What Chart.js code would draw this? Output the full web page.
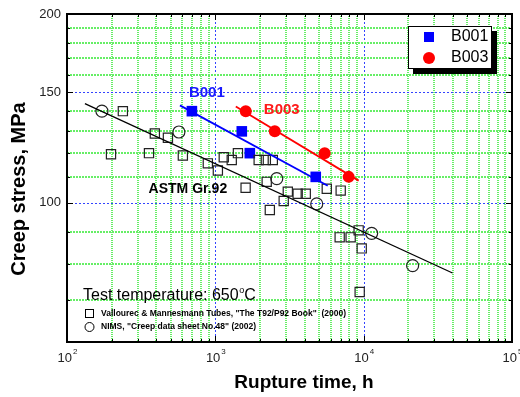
<!DOCTYPE html>
<html>
<head>
<meta charset="utf-8">
<script src="https://cdn.jsdelivr.net/npm/chart.js@4.4.0/dist/chart.umd.min.js"></script>
<style>
  html, body { margin: 0; padding: 0; background: #fff; }
</style>
</head>
<body>
<canvas id="creep" width="520" height="397"></canvas>
<script>
// Vallourec & Mannesmann data (open squares)
const vmTime = [238, 198, 357, 391, 479, 604, 890, 1040, 1140, 1290, 1420, 1960, 2190, 2440,
                1600, 2220, 3080, 3590, 4070, 5640, 7000, 2890, 2330, 6890, 8170, 9250, 9700, 9400];
const vmStress = [140, 119.5, 120, 129, 127, 119, 115.6, 112.6, 118.2, 117, 120, 117, 117, 117,
                  105.7, 108, 104.2, 103.4, 103.4, 105.3, 104.6, 100.7, 97.4, 88.1, 88.1, 90.4, 84.6, 72.1];
// NIMS data (open circles)
const nimsTime = [172, 568, 2595, 4826, 11320, 21380];
const nimsStress = [140, 129.7, 109.3, 99.6, 89.4, 79.4];
// test results
const b001Time = [695, 1508, 1708, 4753];
const b001Stress = [140, 130, 120, 110];
const b003Time = [1604, 2516, 5460, 7925];
const b003Stress = [140, 130, 120, 110];
// fitted lines (end points)
const astmLineTime = [132, 39720];
const astmLineStress = [143.9, 77.3];
const b001LineTime = [577, 5725];
const b001LineStress = [143, 106.5];
const b003LineTime = [1374, 9250];
const b003LineStress = [142.4, 108.5];
// axes
const xGridValues = [100, 200, 300, 400, 500, 600, 700, 800, 900,
                     1000, 2000, 3000, 4000, 5000, 6000, 7000, 8000, 9000,
                     10000, 20000, 30000, 40000, 50000, 60000, 70000, 80000, 90000, 100000];
const xMajor = [100, 1000, 10000, 100000];
const xExponents = ['2', '3', '4', '5'];
const yGridValues = [60, 70, 80, 90, 100, 110, 120, 130, 140, 150, 160, 170, 180, 190, 200];
const yMajor = [100, 150, 200];

const pts = (xs, ys) => xs.map((x, i) => ({ x: x, y: ys[i] }));
const FONT = 'Arial, "Liberation Sans", sans-serif';

const decorations = {
  id: 'decorations',
  beforeDatasetsDraw(chart) {
    const { ctx, chartArea: a, scales: { x, y } } = chart;
    const L = Math.round(a.left), R = Math.round(a.right);
    const T = Math.round(a.top), B = Math.round(a.bottom);
    ctx.save();
    const gridLine = (major, horiz, x1, y1, x2, y2) => {
      if (major) {
        ctx.strokeStyle = '#3344ff'; ctx.lineWidth = 1; ctx.setLineDash([2, 2]);
      } else {
        ctx.strokeStyle = '#66ee66'; ctx.lineWidth = 2; ctx.setLineDash(horiz ? [2, 1] : [1, 1]);
      }
      ctx.beginPath(); ctx.moveTo(x1, y1); ctx.lineTo(x2, y2); ctx.stroke();
    };
    xGridValues.forEach(v => {
      if (v === 100 || v === 100000) return;
      const major = xMajor.includes(v);
      const px = Math.round(x.getPixelForValue(v)) + (major ? 0.5 : 0);
      gridLine(major, false, px, T, px, B);
    });
    yGridValues.forEach(v => {
      if (v === 200) return;
      const major = yMajor.includes(v);
      const py = Math.round(y.getPixelForValue(v)) + (major ? 0.5 : 0);
      gridLine(major, true, L, py, R, py);
    });
    ctx.restore();
  },
  afterDraw(chart) {
    const { ctx, chartArea: a, scales: { x, y } } = chart;
    const L = Math.round(a.left), R = Math.round(a.right);
    const T = Math.round(a.top), B = Math.round(a.bottom);
    ctx.save();
    // inner ticks
    ctx.strokeStyle = '#000';
    ctx.lineWidth = 1;
    xGridValues.forEach(v => {
      const px = Math.round(x.getPixelForValue(v)) + 0.5;
      const len = xMajor.includes(v) ? 6 : 3;
      ctx.beginPath();
      ctx.moveTo(px, B); ctx.lineTo(px, B - len);
      ctx.moveTo(px, T); ctx.lineTo(px, T + len);
      ctx.stroke();
    });
    yGridValues.forEach(v => {
      const py = Math.round(y.getPixelForValue(v)) + 0.5;
      const len = yMajor.includes(v) ? 6 : 3;
      ctx.beginPath();
      ctx.moveTo(L, py); ctx.lineTo(L + len, py);
      ctx.moveTo(R, py); ctx.lineTo(R - len, py);
      ctx.stroke();
    });
    // frame
    ctx.lineWidth = 2;
    ctx.strokeRect(L, T, R - L, B - T);

    // tick labels
    ctx.fillStyle = '#222';
    ctx.font = '13px ' + FONT;
    ctx.textAlign = 'right';
    ctx.textBaseline = 'middle';
    yMajor.forEach(v => ctx.fillText(String(v), L - 6, y.getPixelForValue(v)));
    xMajor.forEach((v, i) => {
      const px = x.getPixelForValue(v);
      ctx.font = '13px ' + FONT;
      const w1 = ctx.measureText('10').width;
      ctx.font = '8px ' + FONT;
      const w2 = ctx.measureText(xExponents[i]).width;
      const left = px - (w1 + w2) / 2;
      ctx.textAlign = 'left';
      ctx.font = '13px ' + FONT;
      ctx.fillText('10', left, B + 16);
      ctx.font = '8px ' + FONT;
      ctx.fillText(xExponents[i], left + w1 + 1, B + 10);
    });

    // axis titles
    ctx.fillStyle = '#000';
    ctx.font = 'bold 19px ' + FONT;
    ctx.textAlign = 'center';
    ctx.fillText('Rupture time, h', 304, 383);
    ctx.save();
    ctx.translate(19, 189);
    ctx.rotate(-Math.PI / 2);
    ctx.font = 'bold 20px ' + FONT;
    ctx.fillText('Creep stress, MPa', 0, 0);
    ctx.restore();

    // line labels
    ctx.font = 'bold 15px ' + FONT;
    ctx.fillStyle = '#1a1aff';
    ctx.fillText('B001', x.getPixelForValue(877), y.getPixelForValue(150));
    ctx.fillStyle = '#ff1a1a';
    ctx.fillText('B003', x.getPixelForValue(2805), y.getPixelForValue(140.8));
    ctx.fillStyle = '#000';
    ctx.font = 'bold 14px ' + FONT;
    ctx.fillText('ASTM Gr.92', x.getPixelForValue(653), y.getPixelForValue(105.3));

    // test temperature note
    ctx.textAlign = 'left';
    ctx.font = '16px ' + FONT;
    let tx = L + 16;
    const ty = 296;
    ctx.fillText('Test temperature: 650', tx, ty);
    tx += ctx.measureText('Test temperature: 650').width;
    ctx.font = '9px ' + FONT;
    ctx.fillText('o', tx + 0.5, ty - 5);
    tx += ctx.measureText('o').width + 0.5;
    ctx.font = '16px ' + FONT;
    ctx.fillText('C', tx, ty);

    // source legend
    ctx.font = 'bold 8.5px ' + FONT;
    ctx.lineWidth = 1;
    ctx.strokeStyle = '#000';
    ctx.strokeRect(L + 18.5, 309.5, 8, 8);
    ctx.fillText('Vallourec & Mannesmann Tubes, "The T92/P92 Book"  (2000)', L + 34, 314);
    ctx.beginPath();
    ctx.arc(L + 22.5, 327, 4.5, 0, Math.PI * 2);
    ctx.stroke();
    ctx.fillText('NIMS, "Creep data sheet No.48" (2002)', L + 34, 327);

    // series legend box with shadow
    ctx.fillStyle = '#000';
    ctx.fillRect(413, 31, 84, 43);
    ctx.fillStyle = '#fff';
    ctx.fillRect(408, 26, 84, 43);
    ctx.lineWidth = 1;
    ctx.strokeRect(408.5, 26.5, 83, 42);
    ctx.fillStyle = '#0000ff';
    ctx.fillRect(424, 32, 10, 10);
    ctx.fillStyle = '#ff0000';
    ctx.beginPath(); ctx.arc(429, 58, 6, 0, Math.PI * 2); ctx.fill();
    ctx.fillStyle = '#000';
    ctx.font = '16px ' + FONT;
    ctx.textBaseline = 'middle';
    ctx.fillText('B001', 451, 37);
    ctx.fillText('B003', 451, 58);
    ctx.restore();
  }
};

const lineSet = (xs, ys, color, w) => ({
  type: 'line', data: pts(xs, ys), borderColor: color, borderWidth: w,
  pointRadius: 0, showLine: true, fill: false
});

new Chart(document.getElementById('creep'), {
  type: 'scatter',
  data: {
    datasets: [
      lineSet(astmLineTime, astmLineStress, '#000', 1.3),
      lineSet(b001LineTime, b001LineStress, '#0000ff', 1.8),
      lineSet(b003LineTime, b003LineStress, '#ff0000', 1.8),
      {
        label: 'V&M', data: pts(vmTime, vmStress), pointStyle: 'rect', pointRadius: 6.5,
        borderColor: '#222', borderWidth: 1.2, backgroundColor: 'rgba(255,255,255,0)'
      },
      {
        label: 'NIMS', data: pts(nimsTime, nimsStress), pointStyle: 'circle', pointRadius: 6,
        borderColor: '#222', borderWidth: 1.2, backgroundColor: 'rgba(255,255,255,0)'
      },
      {
        label: 'B001', data: pts(b001Time, b001Stress), pointStyle: 'rect', pointRadius: 7.5,
        borderWidth: 0, backgroundColor: '#0000ff'
      },
      {
        label: 'B003', data: pts(b003Time, b003Stress), pointStyle: 'circle', pointRadius: 6,
        borderWidth: 0, backgroundColor: '#ff0000'
      }
    ]
  },
  options: {
    responsive: false,
    animation: false,
    devicePixelRatio: 1,
    layout: { padding: { left: 0, top: 14, right: 8, bottom: 0 } },
    plugins: { legend: { display: false }, tooltip: { enabled: false } },
    scales: {
      x: {
        type: 'logarithmic', min: 100, max: 100000,
        grid: { display: false }, border: { display: false },
        ticks: { display: false },
        afterFit: s => { s.height = 55; }
      },
      y: {
        type: 'logarithmic', min: 60, max: 200,
        grid: { display: false }, border: { display: false },
        ticks: { display: false },
        afterFit: s => { s.width = 67; }
      }
    }
  },
  plugins: [decorations]
});
</script>
</body>
</html>
